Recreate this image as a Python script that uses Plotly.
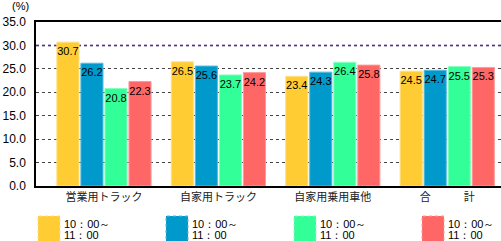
import plotly.graph_objects as go

categories = ["営業用トラック", "自家用トラック", "自家用乗用車他", "合　　　計"]
series_names = ["10：00～<br>11：00", "10：00～<br>11：00", "10：00～<br>11：00", "10：00～<br>11：00"]
s1 = [30.7, 26.5, 23.4, 24.5]
s2 = [26.2, 25.6, 24.3, 24.7]
s3 = [20.8, 23.7, 26.4, 25.5]
s4 = [22.3, 24.2, 25.8, 25.3]
series = [s1, s2, s3, s4]
colors = ["#FFCC33", "#0099CC", "#33FF99", "#FF6666"]
line_colors = ["#FFE080", "#55BBDD", "#88FFC0", "#FF9999"]
y_ticks = [0, 5, 10, 15, 20, 25, 30, 35]

W, H = 501, 241
ML, MT, MB, MR = 36, 22, 55, 0
PW, PH = W - ML - MR, H - MT - MB

fig = go.Figure()
for vals, name, c, lc in zip(series, series_names, colors, line_colors):
    fig.add_trace(go.Bar(
        x=categories, y=vals, name=name,
        marker=dict(color=c, line=dict(color=lc, width=1)),
        text=[f"{v:.1f}" for v in vals],
        textposition="inside", insidetextanchor="end",
        constraintext="none", textangle=0,
        textfont=dict(family="Liberation Sans, Arial", size=11, color="black"),
        showlegend=False,
    ))

fig.update_layout(
    width=W, height=H,
    margin=dict(l=ML, r=MR, t=MT, b=MB, pad=0),
    paper_bgcolor="white", plot_bgcolor="white",
    barmode="group", bargap=0.16, bargroupgap=0.08,
    font=dict(family="Liberation Sans, Arial", size=12, color="black"),
    xaxis=dict(
        range=[-0.594, 3.47], showline=True, linecolor="black", linewidth=1.5,
        mirror=True, ticks="", showgrid=False,
        tickfont=dict(family="Noto Sans CJK JP", size=11, color="#222"),
    ),
    yaxis=dict(
        range=[0, 35], tickvals=y_ticks, tickformat=".1f",
        showline=True, linecolor="black", linewidth=1.5,
        showgrid=True, gridcolor="#444444", griddash="dot", gridwidth=1,
        ticks="", ticklabelstandoff=6,
        tickfont=dict(family="Liberation Sans, Arial", size=12, color="black"),
        zeroline=False,
    ),
)

# highlighted 30% line
fig.add_shape(type="line", xref="paper", yref="y", x0=0, x1=1, y0=30, y1=30,
              line=dict(color="#8877AA", width=2, dash="dot"), layer="below")

fig.add_annotation(text="(%)", xref="paper", yref="paper",
                   x=(20 - ML) / PW, y=(MT + PH - 6) / PH, showarrow=False,
                   font=dict(size=11), xanchor="center", yanchor="middle")

# manual legend
legend_x = [38, 166, 294, 422]
for lx, name, c, lc in zip(legend_x, series_names, colors, line_colors):
    x0 = (lx - ML) / PW
    x1 = (lx + 22 - ML) / PW
    y0 = (MT + PH - 216) / PH
    y1 = (MT + PH - 242) / PH
    fig.add_shape(type="rect", xref="paper", yref="paper", x0=x0, x1=x1, y0=y1, y1=y0,
                  fillcolor=c, line=dict(color=lc, width=1, dash="dot"))
    for line_text, py in zip(name.split("<br>"), [224, 235]):
        fig.add_annotation(text=line_text, xref="paper", yref="paper",
                           x=(lx + 24 - ML) / PW, y=(MT + PH - py) / PH,
                           showarrow=False, xanchor="left", yanchor="middle", align="left",
                           font=dict(size=11, family="Liberation Sans, Arial"))

fig.write_html("out.html")
